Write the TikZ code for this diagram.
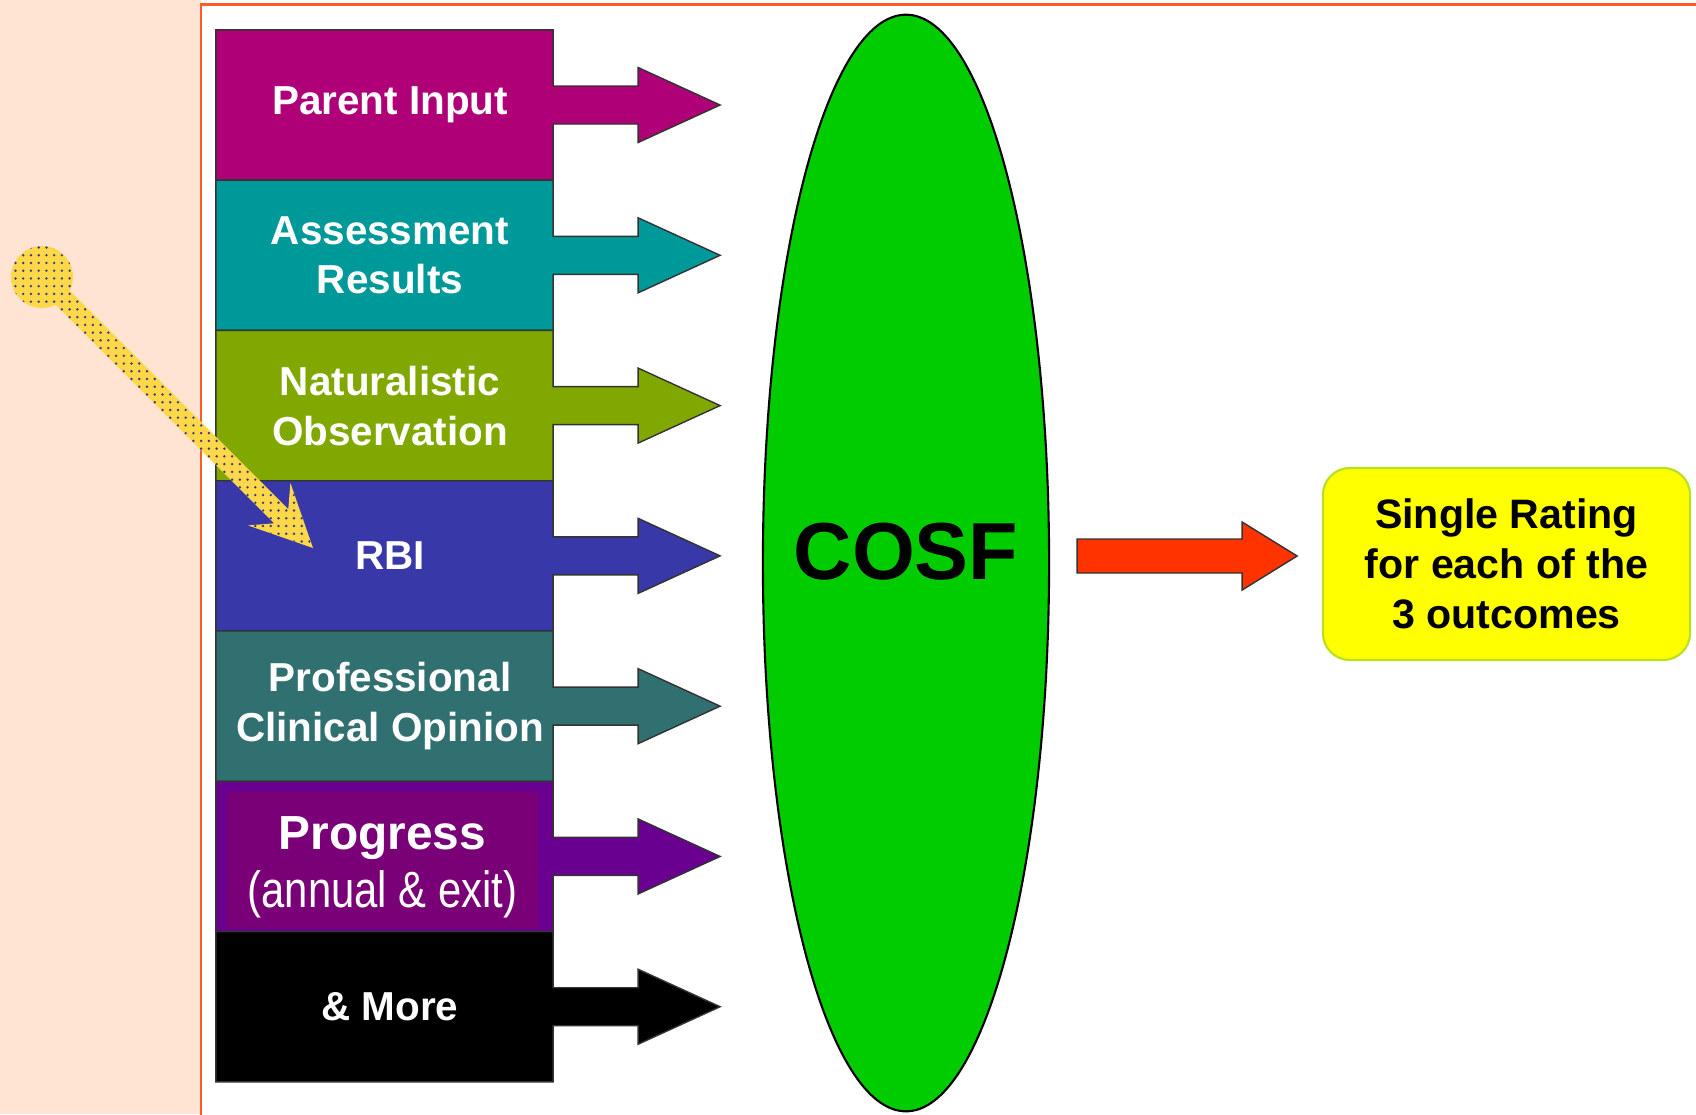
\documentclass[tikz,border=0pt]{standalone}
\usepackage{fontspec}
\setmainfont{Liberation Sans}
\newfontfamily\narrowfont[FakeStretch=0.82]{Liberation Sans}
\usetikzlibrary{positioning,shapes.geometric,backgrounds,calc,patterns.meta}
\definecolor{peach}{HTML}{FFE4D4}
\definecolor{framec}{HTML}{FF5A28}
\definecolor{parentc}{HTML}{B00078}
\definecolor{assessc}{HTML}{009999}
\definecolor{natc}{HTML}{80A800}
\definecolor{rbic}{HTML}{3838A8}
\definecolor{profc}{HTML}{307070}
\definecolor{progc}{HTML}{6A0090}
\definecolor{proginc}{HTML}{7A0078}
\definecolor{morec}{HTML}{000000}
\definecolor{cosfc}{HTML}{00CC00}
\definecolor{arrowred}{HTML}{FF3300}
\definecolor{ratingc}{HTML}{FFFF00}
\definecolor{ratingedge}{HTML}{B8E020}
\definecolor{pinc}{HTML}{FFD84A}
\definecolor{dotc}{HTML}{3A3A80}

\begin{document}
\begin{tikzpicture}[
    x=0.01cm, y=-0.01cm,
    box/.style={minimum width=3.37cm, minimum height=1.502cm, inner sep=0pt, outer sep=0pt, align=center, text=white, font=\fontsize{11.5}{14.2}\selectfont\bfseries},
    blockarrow/.style={draw=black!80, line width=0.4pt},
    cosfnode/.style={ellipse, draw, fill=cosfc, line width=0.6pt, minimum width=2.86cm, minimum height=10.96cm, inner sep=0pt},
    cosftext/.style={font=\fontsize{23}{27}\selectfont\bfseries, yshift=0.11cm},
    rating/.style={draw=ratingedge, fill=ratingc, line width=0.6pt, rounded corners=0.27cm, minimum width=3.67cm, minimum height=1.92cm, align=center, font=\fontsize{11.7}{14.2}\selectfont\bfseries},
    pin/.style={fill=pinc, postaction={pattern={Dots[distance=2.2pt, radius=0.38pt]}, pattern color=dotc}},
  ]
  \useasboundingbox (0,0) rectangle (1696,1114);
  \fill[peach] (0,0) rectangle (201,1114);
  \draw[framec, line width=0.85pt] (1710,4) -- (201,4) -- (201,1130);

  % input boxes (text sits a little right of the box centre)
  \node[box] (parent) at (390,105) {Parent Input};
  \node[box, below=0pt of parent] (assess) {Assessment\\Results};
  \node[box, below=0pt of assess] (natobs) {Naturalistic\\Observation};
  \node[box, below=0pt of natobs] (rbi) {RBI};
  \node[box, below=0pt of rbi] (prof) {Professional\\Clinical Opinion};
  \node[box, below=0pt of prof] (progress) {};
  \node[box, below=0pt of progress] (more) {\& More};
  \node[box, font=\fontsize{13.6}{16.5}\selectfont\bfseries] (progtext) at ($(progress.center)+(-7.5,11)$) {Progress\\{\narrowfont\mdseries\fontsize{14.5}{16.5}\selectfont (annual \& exit)}};

  \begin{scope}[on background layer]
    \fill[white] (201,4) rectangle (1696,1114);
    \foreach \n/\c in {parent/parentc, assess/assessc, natobs/natc, rbi/rbic, prof/profc, progress/progc, more/morec}
      \filldraw[blockarrow, fill=\c] ($(\n.north west)+(-5.5,0)$) -- ($(\n.north east)+(-5.5,0)$) -- ($(\n.east)+(-5.5,-19)$)
        -- ++(85,0) -- ++(0,-18.5) -- ($(\n.east)+(161.5,0)$) -- ($(\n.east)+(79.5,37.5)$) -- ++(0,-18.5)
        -- ($(\n.east)+(-5.5,19)$) -- ($(\n.south east)+(-5.5,0)$) -- ($(\n.south west)+(-5.5,0)$) -- cycle;
    \fill[proginc] ($(progress.north west)+(5.5,11)$) rectangle ($(progress.south east)+(-20.5,-4)$);
  \end{scope}

  \node[cosfnode, label={[cosftext]center:COSF}] (cosf) at (906,563) {};
  \node[rating] (rating) at (1506.5,564) {Single Rating\\for each of the\\3 outcomes};

  \coordinate (r0) at ($(cosf.east)+(27,-7)$);
  \filldraw[blockarrow, fill=arrowred] ($(r0)+(0,-17)$) -- ++(165,0) -- ++(0,-17) -- ($(r0)+(220,0)$)
    -- ($(r0)+(165,34)$) -- ++(0,-17) -- ($(r0)+(0,17)$) -- cycle;

  % pointer pin
  \fill[pin] (42,277) circle[radius=31];
  \fill[pin] (49.1,269.9) -- (288.3,509.1) -- (290.4,483) -- (313,548) -- (248,525.4) -- (274.1,523.3) -- (34.9,284.1) -- cycle;
\end{tikzpicture}
\end{document}
